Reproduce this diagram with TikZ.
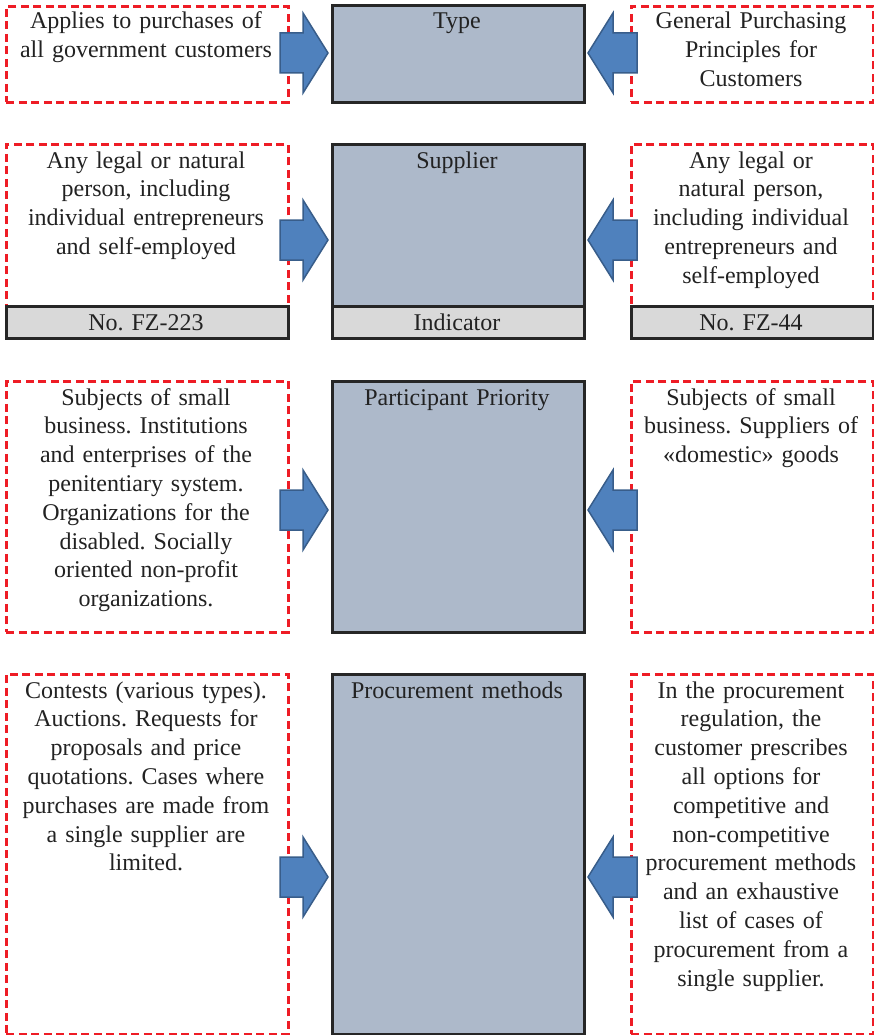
\documentclass[tikz,border=0pt]{standalone}
\usepackage{fontspec}
\setmainfont{Liberation Serif}
\definecolor{dashred}{HTML}{EE1C25}
\definecolor{boxfill}{HTML}{ADB9CA}
\definecolor{barfill}{HTML}{D9D9D9}
\definecolor{edge}{HTML}{262626}
\definecolor{arrfill}{HTML}{4F81BD}
\definecolor{arredge}{HTML}{385D8A}
\definecolor{txt}{HTML}{222222}
\begin{document}
\frenchspacing
\begin{tikzpicture}[x=1pt,y=-1pt,
  sidebox/.style={draw=dashred, line width=2.8pt, dash pattern=on 8pt off 4.5pt, anchor=north west, inner sep=0pt},
  midbox/.style={draw=edge, fill=boxfill, line width=2.6pt, anchor=north west, inner sep=0pt},
  barbox/.style={draw=edge, fill=barfill, line width=2.6pt, anchor=north west, inner sep=0pt},
  lbl/.style={anchor=base, align=center, text width=300pt, inner sep=0pt, text=txt,
    font=\fontsize{24}{28.8}\selectfont\frenchspacing},
  blockarrow/.style={fill=arrfill, draw=arredge, line width=1.5pt, line join=miter}
]
\useasboundingbox (0,0) rectangle (874,1035);

% ---------- row 1 ----------
\node[sidebox, minimum width=282pt, minimum height=96pt] (l1) at (5,5) {};
\node[midbox, minimum width=252pt, minimum height=97pt] (c1) at (331,4) {};
\node[sidebox, minimum width=242pt, minimum height=96pt] (r1) at (630,5) {};
\node[lbl] (tl1) at (146,29) {Applies to purchases of\\all government customers};
\node[lbl] (tc1) at (457,29) {Type};
\node[lbl] (tr1) at (751,29) {General Purchasing\\Principles for\\Customers};

% ---------- row 2 ----------
\node[sidebox, minimum width=282pt, minimum height=164pt] (l2) at (5,143) {};
\node[midbox, minimum width=252pt, minimum height=163pt] (c2) at (331,143) {};
\node[sidebox, minimum width=242pt, minimum height=164pt] (r2) at (630,143) {};
\node[barbox, minimum width=282pt, minimum height=32pt] (bl) at (5,305) {};
\node[barbox, minimum width=252pt, minimum height=32pt] (bc) at (331,305) {};
\node[barbox, minimum width=242pt, minimum height=32pt] (br) at (630,305) {};
\node[lbl] (tl2) at (146,168) {Any legal or natural\\person, including\\individual entrepreneurs\\and self-employed};
\node[lbl] (tc2) at (457,168) {Supplier};
\node[lbl] (tr2) at (751,168) {Any legal or\\natural person,\\including individual\\entrepreneurs and\\self-employed};
\node[lbl] (tbl) at (146,330) {No. FZ-223};
\node[lbl] (tbc) at (457,330) {Indicator};
\node[lbl] (tbr) at (751,330) {No. FZ-44};

% ---------- row 3 ----------
\node[sidebox, minimum width=282pt, minimum height=251pt] (l3) at (5,380) {};
\node[midbox, minimum width=252pt, minimum height=251pt] (c3) at (331,380) {};
\node[sidebox, minimum width=242pt, minimum height=251pt] (r3) at (630,380) {};
\node[lbl] (tl3) at (146,405) {Subjects of small\\business. Institutions\\and enterprises of the\\penitentiary system.\\Organizations for the\\disabled. Socially\\oriented non-profit\\organizations.};
\node[lbl] (tc3) at (457,405) {Participant Priority};
\node[lbl] (tr3) at (751,405) {Subjects of small\\business. Suppliers of\\«domestic» goods};

% ---------- row 4 ----------
\node[sidebox, minimum width=282pt, minimum height=360pt] (l4) at (5,673) {};
\node[midbox, minimum width=252pt, minimum height=360pt] (c4) at (331,673) {};
\node[sidebox, minimum width=242pt, minimum height=360pt] (r4) at (630,673) {};
\node[lbl] (tl4) at (146,698) {Contests (various types).\\Auctions. Requests for\\proposals and price\\quotations. Cases where\\purchases are made from\\a single supplier are\\limited.};
\node[lbl] (tc4) at (457,698) {Procurement methods};
\node[lbl] (tr4) at (751,698) {In the procurement\\regulation, the\\customer prescribes\\all options for\\competitive and\\non-competitive\\procurement methods\\and an exhaustive\\list of cases of\\procurement from a\\single supplier.};

% ---------- block arrows ----------
\foreach \y in {53,240,510,877}{
  \draw[blockarrow] (280,\y-20) -- (303,\y-20) -- (303,\y-40) -- (328,\y)
     -- (303,\y+40) -- (303,\y+20) -- (280,\y+20) -- cycle;
  \draw[blockarrow] (637,\y-20) -- (613,\y-20) -- (613,\y-40) -- (588,\y)
     -- (613,\y+40) -- (613,\y+20) -- (637,\y+20) -- cycle;
}
\end{tikzpicture}
\end{document}
